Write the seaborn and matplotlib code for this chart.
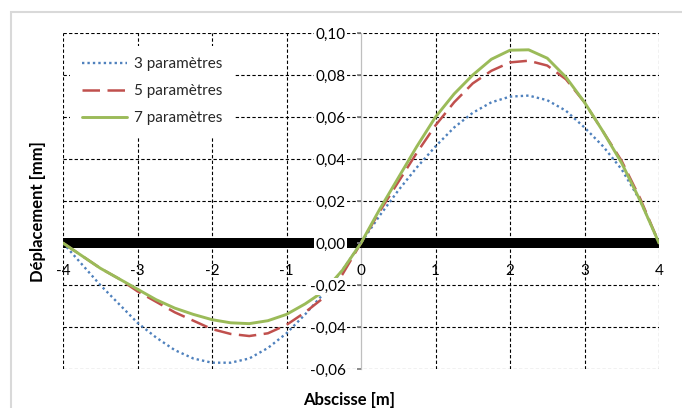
import numpy as np
import pandas as pd
import matplotlib
matplotlib.use("Agg")
import matplotlib.pyplot as plt
import seaborn as sns
from matplotlib.ticker import MultipleLocator, FuncFormatter
from matplotlib.patches import Rectangle

# ---- data ----
x = [-4.0, -3.75, -3.5, -3.25, -3.0, -2.75, -2.5, -2.25, -2.0, -1.75, -1.5, -1.25,
     -1.0, -0.75, -0.5, -0.25, 0.0, 0.25, 0.5, 0.75, 1.0, 1.25, 1.5, 1.75,
     2.0, 2.25, 2.5, 2.75, 3.0, 3.25, 3.5, 3.75, 4.0]
p3 = [0.0, -0.010, -0.020, -0.029, -0.038, -0.045, -0.051, -0.055, -0.057, -0.057,
      -0.055, -0.050, -0.043, -0.034, -0.024, -0.013, 0.000, 0.013, 0.025, 0.036,
      0.046, 0.055, 0.062, 0.067, 0.0697, 0.0702, 0.068, 0.063, 0.055, 0.046,
      0.035, 0.020, 0.0]
p5 = [0.0, -0.006, -0.012, -0.017, -0.023, -0.028, -0.033, -0.037, -0.041, -0.0433,
      -0.0443, -0.043, -0.039, -0.033, -0.026, -0.015, 0.000, 0.015, 0.029, 0.043,
      0.056, 0.067, 0.076, 0.082, 0.0860, 0.0868, 0.0845, 0.078, 0.067, 0.053,
      0.039, 0.021, 0.0]
p7 = [0.0, -0.006, -0.012, -0.017, -0.022, -0.027, -0.031, -0.034, -0.0365, -0.0380,
      -0.0384, -0.0370, -0.034, -0.029, -0.023, -0.013, 0.000, 0.016, 0.031, 0.046,
      0.060, 0.071, 0.080, 0.0875, 0.0918, 0.0920, 0.0880, 0.079, 0.067, 0.053,
      0.038, 0.020, 0.0]
labels = ["3 paramètres", "5 paramètres", "7 paramètres"]
colors = ["#4F81BD", "#C0504D", "#9BBB59"]
styles = [(0, (1, 1.3)), (0, (7, 3)), "-"]
widths = [1.7, 1.8, 2.1]

sns.set_theme(style="white")
plt.rcParams["font.family"] = ["Lato", "DejaVu Sans"]

W, H = 682, 408
fig = plt.figure(figsize=(W / 100, H / 100), dpi=100)
L, R, T, B = 63, 659, 33, 369
ax = fig.add_axes([L / W, 1 - B / H, (R - L) / W, (B - T) / H])

series = [p3, p5, p7]
for vals, lab, col, ls, lw in zip(series, labels, colors, styles, widths):
    sns.lineplot(x=x, y=vals, ax=ax, color=col, linestyle=ls, linewidth=lw,
                 label=lab, zorder=3)
for ln in ax.get_lines():
    ln.set_solid_joinstyle("round")
    ln.set_dash_joinstyle("round")

ax.set_xlim(-4, 4)
ax.set_ylim(-0.06, 0.10)
ax.xaxis.set_major_locator(MultipleLocator(1))
ax.yaxis.set_major_locator(MultipleLocator(0.02))


def yfmt(v, pos):
    s = f"{v:.2f}"
    if s == "-0.00":
        s = "0.00"
    return s.replace(".", ",")


ax.yaxis.set_major_formatter(FuncFormatter(yfmt))
ax.xaxis.set_major_formatter(FuncFormatter(lambda v, p: f"{v:.0f}"))

# grid lines (dashed), drawn under curves
gkw = dict(color="black", linewidth=0.8, linestyle=(0, (3, 2)), zorder=1)
xt = [t for t in ax.get_xticks() if -4 <= t <= 4 and abs(t) > 1e-9]
yt = [t for t in ax.get_yticks() if -0.0601 <= t <= 0.1001]
ax.vlines(xt, -0.06, 0.10, **gkw)
ax.hlines(yt, -4, 4, **gkw)
ax.grid(False)

# spines
for s in ["top", "right"]:
    ax.spines[s].set_visible(False)
ax.spines["left"].set_position(("data", 0))
ax.spines["left"].set_color("#bfbfbf")
ax.spines["left"].set_linewidth(0.9)
ax.spines["left"].set_zorder(1.5)
ax.spines["bottom"].set_position(("data", 0))
ax.spines["bottom"].set_color("black")
ax.spines["bottom"].set_linewidth(7.2)
ax.spines["bottom"].set_capstyle("butt")
ax.spines["bottom"].set_zorder(2)

ax.tick_params(axis="y", length=3, color="#808080", pad=8, labelsize=11,
               labelcolor="black", direction="out", left=True)
ax.tick_params(axis="x", length=0, pad=15, labelsize=11, labelcolor="black")
for lbl in ax.get_yticklabels():
    lbl.set_bbox(dict(facecolor="white", edgecolor="none", pad=1.0))
ax.yaxis.set_zorder(5)
ax.xaxis.set_zorder(5)

ax.set_xlabel("Abscisse [m]", fontsize=12, fontweight="bold", color="black")
ax.set_ylabel("Déplacement [mm]", fontsize=12, fontweight="bold", color="black")
ax.xaxis.set_label_coords((349.5 - L) / (R - L), (B - 392) / (B - T))
ax.yaxis.set_label_coords((46 - L) / (R - L), (B - 212) / (B - T))

leg = ax.legend(loc="upper left", bbox_to_anchor=(0.012, 1 - 13 / (B - T)),
                borderaxespad=0, frameon=True, fontsize=11, handlelength=3.0,
                handletextpad=0.45, labelspacing=0.85, borderpad=0.75)
leg.get_frame().set_facecolor("white")
leg.get_frame().set_edgecolor("none")
leg.get_frame().set_alpha(1)
leg.get_frame().set_boxstyle("square", pad=0)
leg.set_zorder(6)

ax.patch.set_alpha(0)
fig.patches.append(Rectangle((11 / W, -0.5), 2, 1 - 12 / H + 0.5,
                             transform=fig.transFigure, fill=False,
                             edgecolor="#d9d9d9", linewidth=1.5))

fig.savefig("out.png", dpi=100, facecolor="white")
